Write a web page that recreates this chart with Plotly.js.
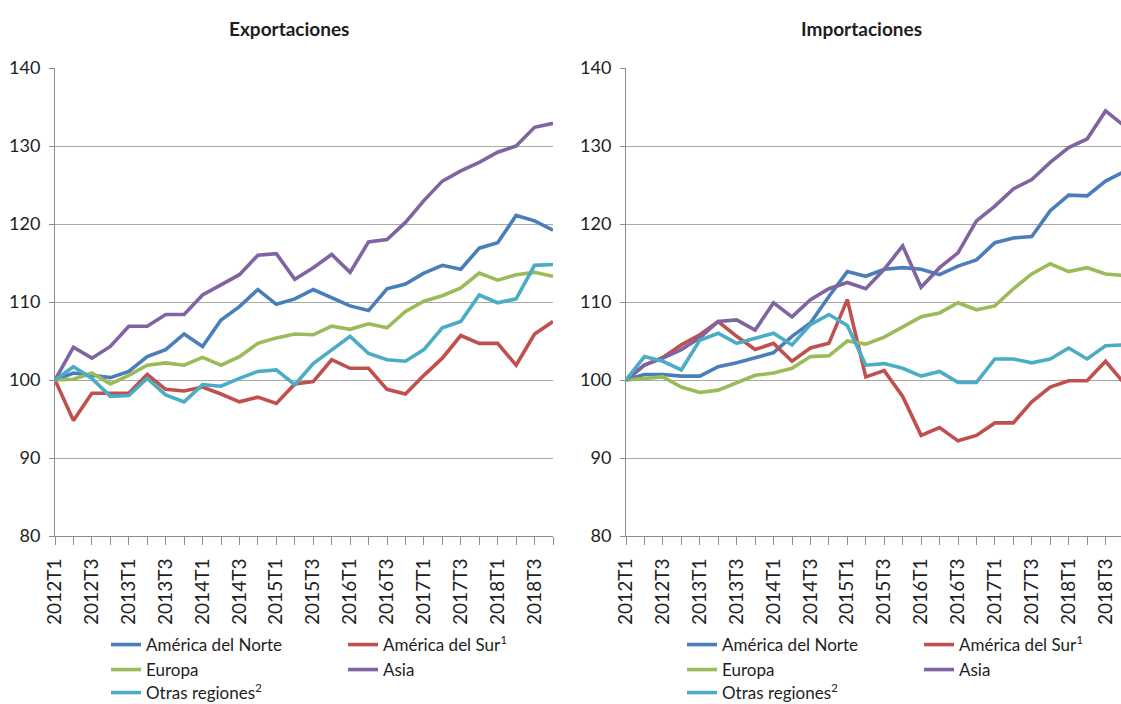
<!DOCTYPE html>
<html><head><meta charset="utf-8">
<script src="https://cdn.plot.ly/plotly-3.0.1.min.js"></script>
<style>html,body{margin:0;padding:0;background:#fff;overflow:hidden}#chart{width:1121px;height:704px}</style>
</head><body><div id="chart"></div>
<script>
const quarters = ['2012T1','2012T2','2012T3','2012T4','2013T1','2013T2','2013T3','2013T4',
  '2014T1','2014T2','2014T3','2014T4','2015T1','2015T2','2015T3','2015T4',
  '2016T1','2016T2','2016T3','2016T4','2017T1','2017T2','2017T3','2017T4',
  '2018T1','2018T2','2018T3','2018T4'];
const panelTitles = ['Exportaciones','Importaciones'];
const seriesNames = ['América del Norte','América del Sur<sup>1</sup>','Europa','Asia','Otras regiones<sup>2</sup>'];
const seriesColors = ['#4A7EBB','#C0504D','#9BBB59','#8064A2','#4BACC6'];

// Exportaciones
const expNorte  = [100,100.9,100.6,100.3,101.1,103.0,103.9,105.9,104.3,107.7,109.4,111.6,109.7,110.4,111.6,110.5,109.5,108.9,111.7,112.3,113.7,114.7,114.2,116.9,117.6,121.1,120.4,119.2];
const expSur    = [100,94.8,98.3,98.3,98.3,100.7,98.8,98.6,99.1,98.2,97.2,97.8,97.0,99.5,99.8,102.6,101.5,101.5,98.8,98.2,100.6,102.8,105.7,104.7,104.7,101.9,105.9,107.5];
const expEuropa = [100,100.1,100.9,99.5,100.6,101.9,102.2,101.9,102.9,101.9,103.0,104.7,105.4,105.9,105.8,106.9,106.5,107.2,106.7,108.8,110.1,110.8,111.8,113.7,112.8,113.5,113.8,113.3];
const expAsia   = [100,104.2,102.8,104.3,106.9,106.9,108.4,108.4,110.9,112.2,113.5,116.0,116.2,112.9,114.4,116.1,113.8,117.7,118.0,120.2,123.0,125.5,126.8,127.9,129.2,130.0,132.4,132.9];
const expOtras  = [100,101.7,100.2,97.9,98.0,100.2,98.1,97.2,99.4,99.2,100.2,101.1,101.3,99.4,102.1,103.9,105.6,103.4,102.6,102.4,103.9,106.7,107.5,110.9,109.9,110.4,114.7,114.8];

// Importaciones
const impNorte  = [100,100.7,100.7,100.5,100.5,101.7,102.2,102.9,103.5,105.6,107.3,110.7,113.9,113.3,114.2,114.4,114.2,113.5,114.6,115.4,117.6,118.2,118.4,121.7,123.7,123.6,125.5,126.7];
const impSur    = [100,101.9,102.9,104.5,105.8,107.5,105.6,103.9,104.7,102.4,104.1,104.7,110.3,100.4,101.2,97.9,92.9,93.9,92.2,92.9,94.5,94.5,97.2,99.1,99.9,99.9,102.4,99.6];
const impEuropa = [100,100.2,100.4,99.1,98.4,98.7,99.7,100.6,100.9,101.5,103.0,103.1,105.0,104.6,105.5,106.8,108.1,108.6,109.9,109.0,109.5,111.7,113.6,114.9,113.9,114.4,113.6,113.4];
const impAsia   = [100,101.9,102.8,103.9,105.4,107.5,107.7,106.4,109.9,108.1,110.3,111.7,112.5,111.7,114.2,117.2,111.9,114.4,116.3,120.4,122.3,124.5,125.7,127.9,129.8,130.9,134.5,132.6];
const impOtras  = [100,103.0,102.4,101.3,105.1,106.0,104.7,105.4,106.0,104.5,107.1,108.4,107.0,101.9,102.1,101.5,100.5,101.1,99.7,99.7,102.7,102.7,102.2,102.7,104.1,102.7,104.4,104.5];

const expSeries = [expNorte, expSur, expEuropa, expAsia, expOtras];
const impSeries = [impNorte, impSur, impEuropa, impAsia, impOtras];
const idx = quarters.map((q,i)=>i);
const labelIdx = idx.filter(i=> i%2===0);
const labelText = labelIdx.map(i=> quarters[i]);
const rowOf = [0,0,1,1,2];

const traces = [];
[expSeries, impSeries].forEach((set, p)=>{
  set.forEach((ys, s)=>{
    const legNum = p*3 + rowOf[s] + 1;
    traces.push({
      x: idx, y: ys, type:'scatter', mode:'lines',
      name: seriesNames[s],
      line:{color: seriesColors[s], width:3.6},
      xaxis: p===0 ? 'x' : 'x2', yaxis: p===0 ? 'y' : 'y2',
      legend: legNum===1 ? 'legend' : 'legend'+legNum,
      hoverinfo:'skip'
    });
  });
});

const W=1121, H=704, L=55, R=0, T=68, B=168;
const pw = W-L-R, ph = H-T-B;
const px2x = px => (px-L)/pw;
const py2y = py => (H-B-py)/ph;
const font = 'Lato, "Open Sans", sans-serif';
const txtColor = '#1e1e1e';

const xBase = {
  tickmode:'array', tickvals: labelIdx, ticktext: labelText, tickangle:-90,
  ticks:'outside', ticklen:8, tickcolor:'#8c8c8c', showline:true, linecolor:'#8c8c8c', linewidth:1,
  minor:{dtick:1, tick0:0, ticks:'outside', ticklen:8, tickcolor:'#8c8c8c', showgrid:false},
  showgrid:false, zeroline:false, tickfont:{family:font, size:19, color:txtColor},
  ticklabelstandoff:6, fixedrange:true
};
const yBase = {
  range:[80,140], dtick:10, tickmode:'linear', tick0:80,
  ticks:'outside', ticklen:5, tickcolor:'#8c8c8c', showline:true, linecolor:'#8c8c8c', linewidth:1,
  showgrid:true, gridcolor:'#a8a8a8', gridwidth:1, zeroline:false,
  tickfont:{family:font, size:18, color:txtColor}, ticklabelstandoff:5, fixedrange:true
};

const leftDomEnd = px2x(553), rightDomStart = px2x(626);
const layout = {
  width:W, height:H, margin:{l:L, r:R, t:T, b:B, autoexpand:false},
  paper_bgcolor:'#fff', plot_bgcolor:'#fff', showlegend:true,
  xaxis: Object.assign({}, xBase, {domain:[0, leftDomEnd], range:[0,27], anchor:'y'}),
  yaxis: Object.assign({}, yBase, {domain:[0,1], anchor:'x'}),
  xaxis2: Object.assign({}, xBase, {domain:[rightDomStart, 1], range:[0, 27*(W-626)/(553-55)], anchor:'y2'}),
  yaxis2: Object.assign({}, yBase, {domain:[0,1], anchor:'x2'}),
  annotations:[
    {text:'<b>'+panelTitles[0]+'</b>', xref:'paper', yref:'paper', x:px2x(289), y:py2y(28), showarrow:false,
     xanchor:'center', yanchor:'middle', font:{family:font, size:19, color:txtColor}},
    {text:'<b>'+panelTitles[1]+'</b>', xref:'paper', yref:'paper', x:px2x(861), y:py2y(28), showarrow:false,
     xanchor:'center', yanchor:'middle', font:{family:font, size:19, color:txtColor}}
  ]
};
const rowY = [645, 670, 693];
const legX = [106, 682];
for (let p=0;p<2;p++){
  for (let r=0;r<3;r++){
    const n = p*3+r+1;
    const key = n===1 ? 'legend' : 'legend'+n;
    layout[key] = {
      orientation:'h', x:px2x(legX[p]), xanchor:'left', y:py2y(rowY[r]), yanchor:'middle',
      entrywidth:192, entrywidthmode:'pixels', itemwidth:30, tracegroupgap:0,
      bgcolor:'rgba(0,0,0,0)', borderwidth:0,
      font:{family:font, size:17, color:txtColor}
    };
  }
}
Plotly.newPlot('chart', traces, layout, {staticPlot:true, displayModeBar:false});
</script>
</body></html>
